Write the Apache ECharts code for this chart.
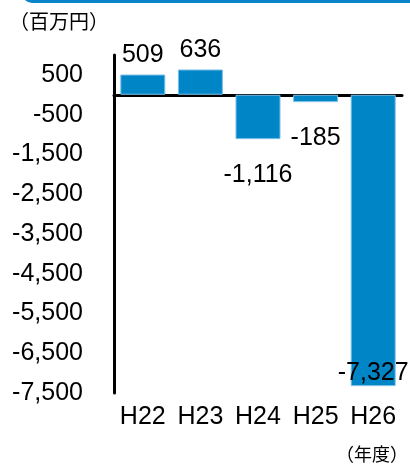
<!DOCTYPE html>
<html lang="ja">
<head>
    <meta charset="UTF-8">
    <script src="https://cdn.jsdelivr.net/npm/echarts@6/dist/echarts.min.js"></script>
    <title>損益</title>
    <style>
        html, body {margin: 0; padding: 0; background: #fff;}
        #main {width: 410px; height: 464px;}
    </style>
</head>
<body>
<div id="main"></div>
<script>
    // 年度
    var years = ['H22', 'H23', 'H24', 'H25', 'H26'];
    // 金額（百万円）
    var values = [509, 636, -1116, -185, -7327];
    // 軸の範囲
    var yMin = -7500;
    var yMax = 1000;

    var latin = '"Liberation Sans", Arial, sans-serif';
    var cjk = '"Noto Sans CJK JP", sans-serif';

    function fmt(v) {
        return v.toLocaleString('en-US');
    }

    // ラベル位置（マイナスは棒の下、最後は棒の中）
    var barData = values.map(function (v, i) {
        var label;
        if (v >= 0) {
            label = {position: 'top', distance: 7};
        } else if (i === values.length - 1) {
            label = {position: 'insideBottom', distance: 1};
        } else {
            label = {position: 'bottom', distance: 23};
        }
        return {value: v, label: label};
    });

    var myChart = echarts.init(document.getElementById('main'));
    var option = {
        animation: false,
        backgroundColor: '#fff',
        grid: {left: 114, right: 8, top: 55, bottom: 71},
        graphic: [
            {   // 上の青い枠
                type: 'rect',
                shape: {x: 22, y: -30, width: 420, height: 33, r: 10},
                style: {fill: '#0a84c8'}
            },
            {
                type: 'text', left: 9, top: 11,
                style: {text: '（百万円）', font: '20px ' + cjk, fill: '#000'}
            },
            {
                type: 'text', right: 2, top: 445,
                style: {text: '（年度）', font: '18px ' + cjk, fill: '#000'}
            }
        ],
        xAxis: [
            {   // 年度ラベル（下）
                type: 'category',
                data: years,
                position: 'bottom',
                axisLine: {show: false, onZero: false},
                axisTick: {show: false},
                axisLabel: {
                    color: '#000', fontSize: 25, fontFamily: latin, margin: 12,
                    interval: 0, hideOverlap: false
                }
            },
            {   // 0 の線
                type: 'category',
                data: years,
                axisLine: {show: true, onZero: true, lineStyle: {color: '#000', width: 3}},
                axisTick: {show: false},
                axisLabel: {show: false}
            }
        ],
        yAxis: {
            type: 'value',
            min: yMin,
            max: yMax,
            interval: 500,
            axisLine: {show: true, lineStyle: {color: '#000', width: 3}},
            axisTick: {show: false},
            splitLine: {show: false},
            axisLabel: {
                color: '#000', fontSize: 25, fontFamily: latin, margin: 31,
                showMaxLabel: false,
                formatter: function (v) {
                    if (v >= yMax) return '';
                    return (v - 500) % 1000 === 0 ? fmt(v) : '';
                }
            }
        },
        series: [{
            type: 'bar',
            data: barData,
            barWidth: 45,
            itemStyle: {color: '#0085c7', borderColor: '#7cc0e8', borderWidth: 1},
            label: {
                show: true,
                color: '#000',
                fontSize: 25,
                fontFamily: latin,
                formatter: function (p) { return fmt(p.value); }
            }
        }]
    };
    myChart.setOption(option);
</script>
</body>
</html>
